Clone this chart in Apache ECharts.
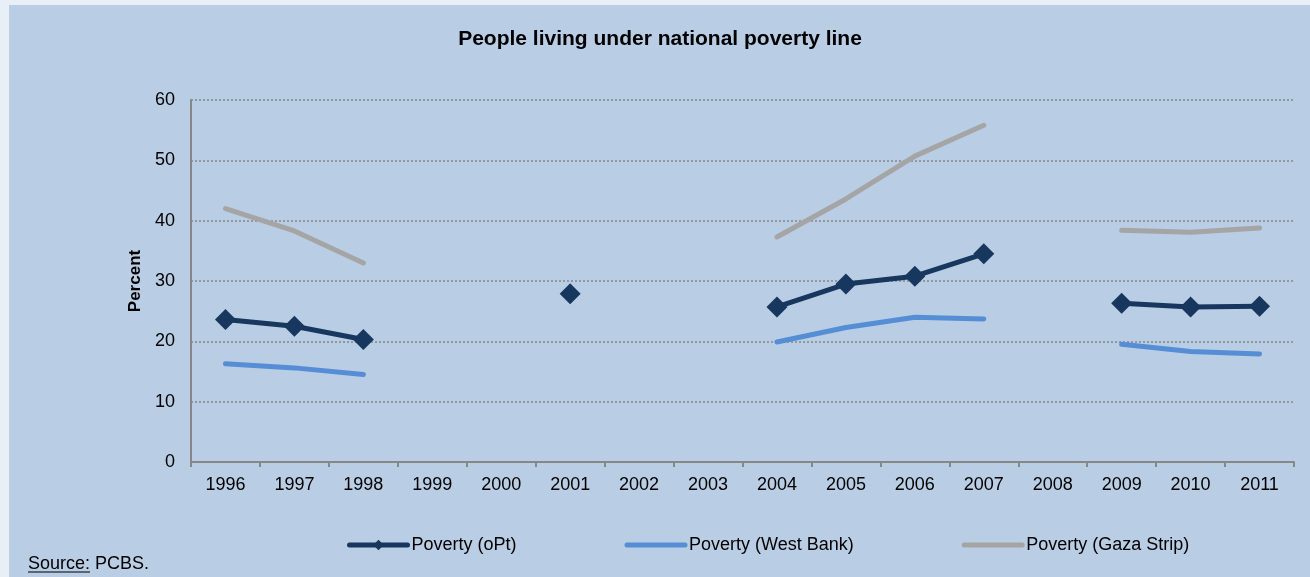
<!DOCTYPE html>
<html>
<head>
<meta charset="utf-8">
<script src="https://cdn.jsdelivr.net/npm/echarts@6/dist/echarts.min.js"></script>
<style>
html,body{margin:0;padding:0;background:#e9eff7;}
#chart{width:1310px;height:577px;}
</style>
</head>
<body>
<div id="chart"></div>
<script>
const years = ['1996','1997','1998','1999','2000','2001','2002','2003','2004','2005','2006','2007','2008','2009','2010','2011'];
const povertyOPt = [23.6, 22.5, 20.3, null, null, 27.9, null, null, 25.7, 29.5, 30.8, 34.5, null, 26.3, 25.7, 25.8];
const povertyWestBank = [16.3, 15.6, 14.5, null, null, null, null, null, 19.9, 22.3, 24.0, 23.7, null, 19.5, 18.3, 17.9];
const povertyGaza = [42.0, 38.3, 33.0, null, null, null, null, null, 37.3, 43.6, 50.7, 55.8, null, 38.4, 38.1, 38.8];
const seriesNames = ['Poverty (oPt)', 'Poverty (West Bank)', 'Poverty (Gaza Strip)'];
const yTicks = {min: 0, max: 60, interval: 10};

const FONT = "'Liberation Sans', Arial, sans-serif";
const chart = echarts.init(document.getElementById('chart'));
const option = {
  backgroundColor: '#e9eff7',
  animation: false,
  textStyle: {fontFamily: FONT},
  graphic: [
    {type: 'rect', left: 9, top: 5, z: -10, shape: {width: 1301, height: 572}, style: {fill: '#b9cde4'}},
    {type: 'text', x: 660, y: 39, style: {text: 'People living under national poverty line', font: 'bold 21px ' + FONT, fill: '#000', textAlign: 'center', textVerticalAlign: 'middle'}},
    {type: 'text', x: 28, y: 564, style: {text: 'Source: PCBS.', font: '18px ' + FONT, fill: '#000', textAlign: 'left', textVerticalAlign: 'middle'}},
    {type: 'line', shape: {x1: 28, y1: 572, x2: 90, y2: 572}, style: {stroke: '#000', lineWidth: 1}}
  ],
  grid: {left: 191, right: 16, top: 100, bottom: 115, containLabel: false},
  legend: {
    data: [
      {name: seriesNames[0]},
      {name: seriesNames[1], itemStyle: {opacity: 0}},
      {name: seriesNames[2], itemStyle: {opacity: 0}}
    ],
    left: 342,
    top: 531,
    itemWidth: 58,
    itemHeight: 13,
    itemGap: 108,
    lineStyle: {width: 5, cap: 'round'},
    textStyle: {fontSize: 18, color: '#000', fontFamily: FONT, padding: [0,0,0,-1]}
  },
  xAxis: {
    type: 'category',
    data: years,
    boundaryGap: true,
    axisLine: {lineStyle: {color: '#878787', width: 2}},
    axisTick: {show: true, length: 5, lineStyle: {color: '#878787', width: 2}},
    axisLabel: {fontSize: 18, color: '#000', margin: 14, fontFamily: FONT}
  },
  yAxis: {
    type: 'value',
    min: yTicks.min, max: yTicks.max, interval: yTicks.interval,
    name: 'Percent',
    nameLocation: 'middle',
    nameGap: 46,
    nameRotate: 90,
    nameTextStyle: {fontSize: 17, fontWeight: 'bold', color: '#000', fontFamily: FONT},
    axisLine: {show: true, lineStyle: {color: '#878787', width: 2}},
    axisTick: {show: false},
    axisLabel: {fontSize: 18, color: '#000', margin: 16, fontFamily: FONT},
    splitLine: {lineStyle: {color: '#878787', type: [2, 2], width: 1.5}}
  },
  series: [
    {
      name: seriesNames[0], type: 'line', data: povertyOPt,
      symbol: 'diamond', symbolSize: 21, showSymbol: true,
      lineStyle: {color: '#17375e', width: 5, cap: 'round'},
      itemStyle: {color: '#17375e'},
      connectNulls: false, z: 4
    },
    {
      name: seriesNames[1], type: 'line', data: povertyWestBank,
      symbol: 'none', showSymbol: false,
      lineStyle: {color: '#558ed5', width: 5, cap: 'round'},
      itemStyle: {color: '#558ed5'},
      connectNulls: false, z: 3
    },
    {
      name: seriesNames[2], type: 'line', data: povertyGaza,
      symbol: 'none', showSymbol: false,
      lineStyle: {color: '#a5a5a5', width: 5, cap: 'round'},
      itemStyle: {color: '#a5a5a5'},
      connectNulls: false, z: 2
    }
  ]
};
chart.setOption(option);
</script>
</body>
</html>
